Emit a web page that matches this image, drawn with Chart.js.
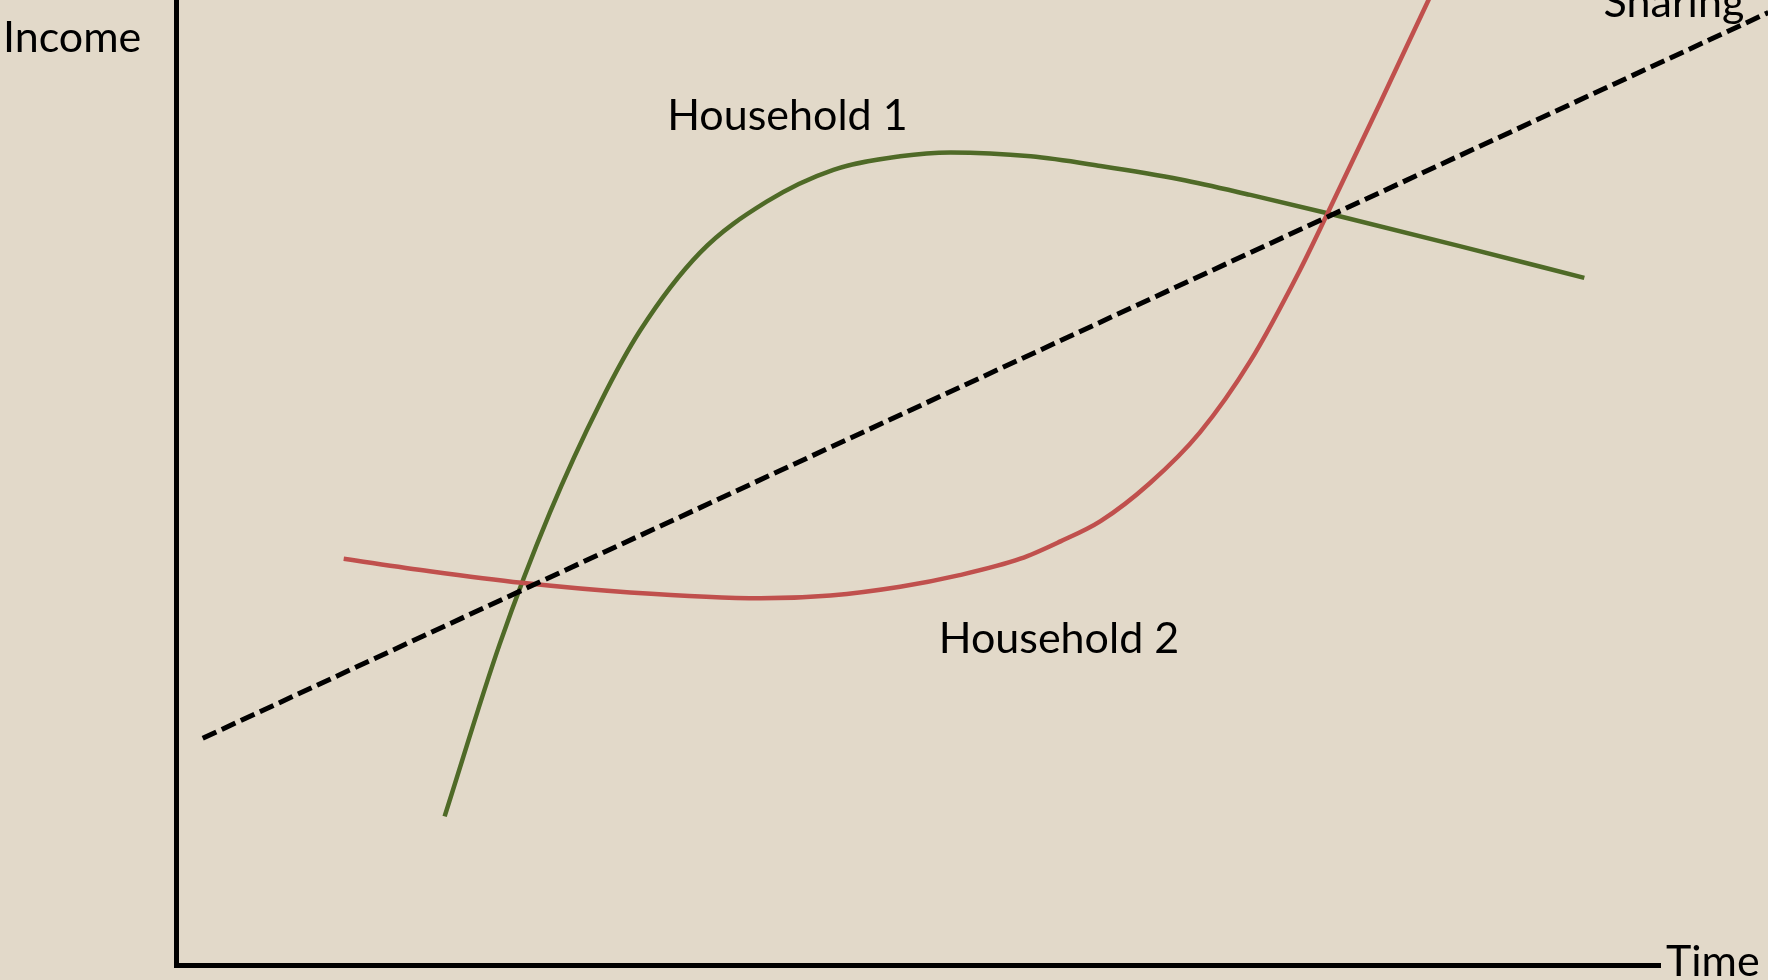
<!DOCTYPE html>
<html>
<head>
<meta charset="utf-8">
<script src="https://cdn.jsdelivr.net/npm/chart.js@4.4.1/dist/chart.umd.min.js"></script>
<style>
  html, body { margin: 0; padding: 0; background: #e2d9c9; }
  #wrap { width: 1768px; height: 980px; }
</style>
</head>
<body>
<div id="wrap"><canvas id="chart" width="1768" height="980"></canvas></div>
<script>
// Household 1 income over time (green)
const hh1Time   = [18.1, 21.8, 25.2, 28.6, 31.3, 35.3, 39.8, 44.3, 48.8, 52.2, 57.6, 62.3, 67.7, 72.4, 77.6, 86.5, 94.9];
const hh1Income = [15.4, 33.2, 46.9, 58.3, 65.8, 73.8, 79.1, 82.4, 83.8, 84.2, 83.8, 82.8, 81.4, 79.8, 77.9, 74.5, 71.2];

// Household 2 income over time (red)
const hh2Time   = [11.3, 17.1, 23.3, 30.6, 39.4, 44.1, 48.8, 52.8, 56.9, 59.6, 62.3, 65.6, 69.0, 72.4, 75.7, 77.6, 81.1, 84.4, 85.2];
const hh2Income = [42.1, 40.8, 39.6, 38.6, 38.0, 38.3, 39.2, 40.4, 42.1, 43.9, 46.0, 49.9, 55.2, 62.6, 71.9, 77.9, 89.2, 100.0, 102.6];

// Sharing line (dashed)
const sharingTime   = [1.8, 107.3];
const sharingIncome = [23.5, 98.7];

// curve labels, anchored in data units (left edge, baseline)
const curveLabels = [
  { text: 'Household 1', x: 33.1, y: 86.5 },
  { text: 'Household 2', x: 51.4, y: 32.3 },
  { text: 'Sharing',     x: 96.2, y: 98.2 }
];
const yAxisLabel = 'Income';
const xAxisLabel = 'Time';

const toPoints = (xs, ys) => xs.map((x, i) => ({ x, y: ys[i] }));

const FONT = '43px Lato, "Open Sans", sans-serif';

const labelPlugin = {
  id: 'labels',
  afterDatasetsDraw(chart) {
    const { ctx, chartArea, scales } = chart;
    ctx.save();
    ctx.fillStyle = '#000';
    ctx.font = FONT;
    ctx.textBaseline = 'alphabetic';
    ctx.textAlign = 'left';
    curveLabels.forEach(l => {
      ctx.fillText(l.text, scales.x.getPixelForValue(l.x), scales.y.getPixelForValue(l.y));
    });
    // axis names: Income left of the y axis top, Time right of the x axis end
    ctx.fillText(yAxisLabel, chartArea.left - 173, chartArea.top + 52);
    ctx.fillText(xAxisLabel, chartArea.right + 6, chartArea.bottom + 11);
    ctx.restore();
  }
};

new Chart(document.getElementById('chart'), {
  type: 'line',
  data: {
    datasets: [
      {
        label: 'Sharing',
        data: toPoints(sharingTime, sharingIncome),
        borderColor: '#000',
        borderWidth: 5,
        borderDash: [15, 6],
        pointRadius: 0,
        clip: false
      },
      {
        label: 'Household 2',
        data: toPoints(hh2Time, hh2Income),
        borderColor: '#c0504d',
        borderWidth: 4.5,
        cubicInterpolationMode: 'monotone',
        pointRadius: 0,
        clip: false
      },
      {
        label: 'Household 1',
        data: toPoints(hh1Time, hh1Income),
        borderColor: '#4f6a27',
        borderWidth: 4.5,
        cubicInterpolationMode: 'monotone',
        pointRadius: 0,
        clip: false
      }
    ]
  },
  options: {
    responsive: false,
    animation: false,
    devicePixelRatio: 1,
    layout: { padding: { left: 176, right: 108, top: 0, bottom: 15 } },
    plugins: { legend: { display: false }, tooltip: { enabled: false } },
    scales: {
      x: {
        type: 'linear', min: 0, max: 100,
        grid: { display: false, drawTicks: false },
        ticks: { display: false },
        border: { display: true, color: '#000', width: 5 }
      },
      y: {
        type: 'linear', min: 0, max: 100,
        grid: { display: false, drawTicks: false },
        ticks: { display: false },
        border: { display: true, color: '#000', width: 5 }
      }
    }
  },
  plugins: [labelPlugin]
});
</script>
</body>
</html>
